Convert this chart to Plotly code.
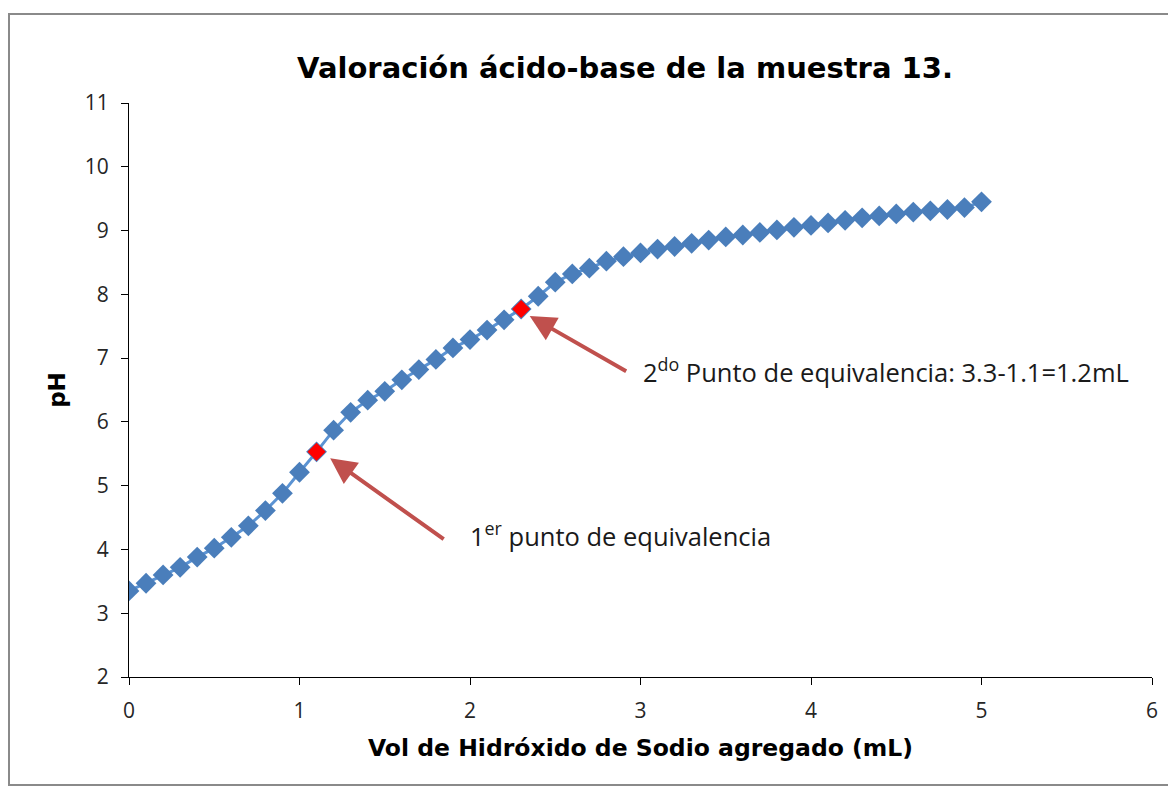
import plotly.graph_objects as go

# Data
vol_ml = [round(i * 0.1, 1) for i in range(51)]
ph = [3.35, 3.47, 3.60, 3.72, 3.88, 4.02, 4.19, 4.37, 4.61, 4.88,
      5.21, 5.53, 5.87, 6.15, 6.34, 6.48, 6.66, 6.82, 6.98, 7.16,
      7.29, 7.44, 7.60, 7.77, 7.97, 8.19, 8.32, 8.41, 8.52, 8.59,
      8.65, 8.71, 8.75, 8.80, 8.85, 8.90, 8.93, 8.97, 9.01, 9.05,
      9.08, 9.12, 9.16, 9.20, 9.23, 9.26, 9.29, 9.31, 9.33, 9.36,
      9.45]
equiv_x = [1.1, 2.3]
equiv_y = [ph[11], ph[23]]

x_ticks = [0, 1, 2, 3, 4, 5, 6]
y_ticks = [2, 3, 4, 5, 6, 7, 8, 9, 10, 11]

title_text = "Valoración ácido-base de la muestra 13."
x_title = "Vol de Hidróxido de Sodio agregado (mL)"
y_title = "pH"
label1 = "1<sup>er</sup> punto de equivalencia"
label2 = "2<sup>do</sup> Punto de equivalencia: 3.3-1.1=1.2mL"

blue = "#4A7EBB"
line_blue = "#5B93D3"
arrow_red = "#C0504D"

fig = go.Figure()
fig.add_trace(go.Scatter(
    x=vol_ml, y=ph, mode="lines+markers",
    line=dict(color=line_blue, width=3),
    marker=dict(symbol="diamond", size=16, color=blue),
    showlegend=False, hoverinfo="x+y"))
fig.add_trace(go.Scatter(
    x=equiv_x, y=equiv_y, mode="markers",
    marker=dict(symbol="diamond", size=14, color="#FF0000"),
    showlegend=False))

# the page body adds an 8px offset
OFF = 8
W, H = 1166, 780
ml, mt = 129 - OFF, 103 - OFF
mr = W - (1152 - OFF)
mb = H - (677 - OFF)
pw, ph_ = W - ml - mr, H - mt - mb

def px2paper_x(px):
    return (px - OFF - ml) / pw

def px2paper_y(py):
    return (H - mb - (py - OFF)) / ph_

ann_font = dict(family="Open Sans, Lato, sans-serif", size=25.5, color="#1a1a1a")
annotations = [
    dict(x=1.18, y=5.43, xref="x", yref="y", text="", showarrow=True,
         ax=115, ay=82, arrowhead=2, arrowsize=1.3, arrowwidth=4,
         arrowcolor=arrow_red, standoff=0),
    dict(x=2.35, y=7.66, xref="x", yref="y", text="", showarrow=True,
         ax=98, ay=56, arrowhead=2, arrowsize=1.3, arrowwidth=4,
         arrowcolor=arrow_red, standoff=0),
    dict(x=1.99, y=4.23, xref="x", yref="y", text=label1, showarrow=False,
         xanchor="left", yanchor="middle", font=ann_font),
    dict(x=3.0, y=6.8, xref="x", yref="y", text=label2, showarrow=False,
         xanchor="left", yanchor="middle", font=ann_font),
]

tick_font = dict(family="Open Sans, Lato, sans-serif", size=21, color="#262626")
fig.update_layout(
    width=W, height=H,
    margin=dict(l=ml, r=mr, t=mt, b=mb),
    paper_bgcolor="white", plot_bgcolor="white",
    title=dict(text="<b>" + title_text + "</b>", x=(625 - OFF) / W, xanchor="center",
               y=1 - (68 - OFF) / H, yanchor="middle",
               font=dict(family="DejaVu Sans, Verdana, sans-serif", size=29, color="#000000")),
    xaxis=dict(range=[0, 6], tickvals=x_ticks, showgrid=False, zeroline=False,
               showline=True, linecolor="#000000", linewidth=1,
               ticks="outside", ticklen=7, tickcolor="#000000",
               tickfont=tick_font, ticklabelstandoff=8,
               title=dict(text="<b>" + x_title + "</b>", standoff=16,
                          font=dict(family="DejaVu Sans, Verdana, sans-serif", size=23.5, color="#000000"))),
    yaxis=dict(range=[2, 11], tickvals=y_ticks, showgrid=False, zeroline=False,
               showline=True, linecolor="#000000", linewidth=1,
               ticks="outside", ticklen=7, tickcolor="#000000",
               tickfont=tick_font, ticklabelstandoff=8,
               title=dict(text="<b>" + y_title + "</b>", standoff=12,
                          font=dict(family="DejaVu Sans, Verdana, sans-serif", size=23, color="#000000"))),
    annotations=annotations,
    shapes=[dict(type="rect", xref="paper", yref="paper",
                 x0=px2paper_x(9), x1=px2paper_x(1171),
                 y0=px2paper_y(785), y1=px2paper_y(14),
                 line=dict(color="#8a8a8a", width=2), layer="below")],
)

fig.write_html("out.html")
